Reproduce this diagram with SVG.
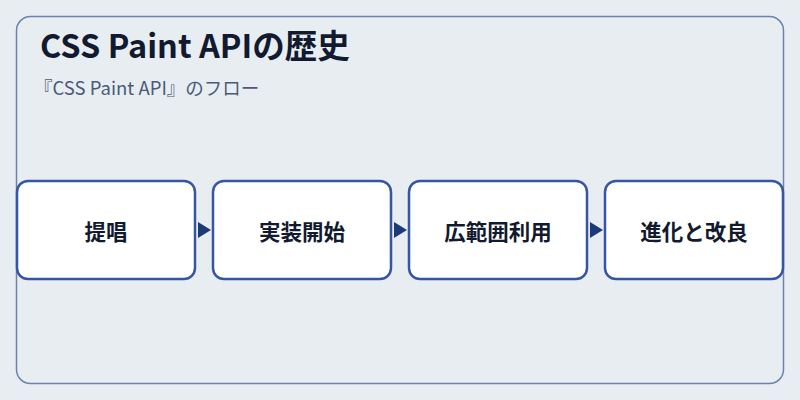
<svg xmlns="http://www.w3.org/2000/svg" width="800" height="400" viewBox="0 0 800 400">
<style>
.n rect{fill:#fff;stroke:#3656a3;stroke-width:2.5}
.n text{font-family:"Noto Sans CJK JP",sans-serif;font-weight:bold;font-size:21.5px;fill:#111a2e;text-anchor:middle;dominant-baseline:central}
.a{fill:#1d3a78}
</style>
<rect width="800" height="400" fill="#e8edf2"/>
<rect x="16.5" y="16.5" width="767" height="367" rx="14" fill="#e8edf2" stroke="#6a83b0" stroke-width="1.5"/>
<text x="40" y="58" font-family="'Noto Sans CJK JP',sans-serif" font-weight="bold" font-size="32.5" fill="#111a2e">CSS Paint APIの歴史</text>
<text x="34" y="95" font-family="'Noto Sans CJK JP',sans-serif" font-size="18.5" fill="#4a5a78">『CSS Paint API』のフロー</text>
<g id="connectors">
<polygon class="a" points="198,222 211,230 198,238"/>
<polygon class="a" points="394,222 407,230 394,238"/>
<polygon class="a" points="590,222 603,230 590,238"/>
</g>
<g id="n1" class="n"><rect x="17" y="181" width="178" height="98" rx="11"/><text x="106" y="230">提唱</text></g>
<g id="n2" class="n"><rect x="213" y="181" width="178" height="98" rx="11"/><text x="302" y="230">実装開始</text></g>
<g id="n3" class="n"><rect x="409" y="181" width="178" height="98" rx="11"/><text x="498" y="230">広範囲利用</text></g>
<g id="n4" class="n"><rect x="605" y="181" width="178" height="98" rx="11"/><text x="694" y="230">進化と改良</text></g>
</svg>
